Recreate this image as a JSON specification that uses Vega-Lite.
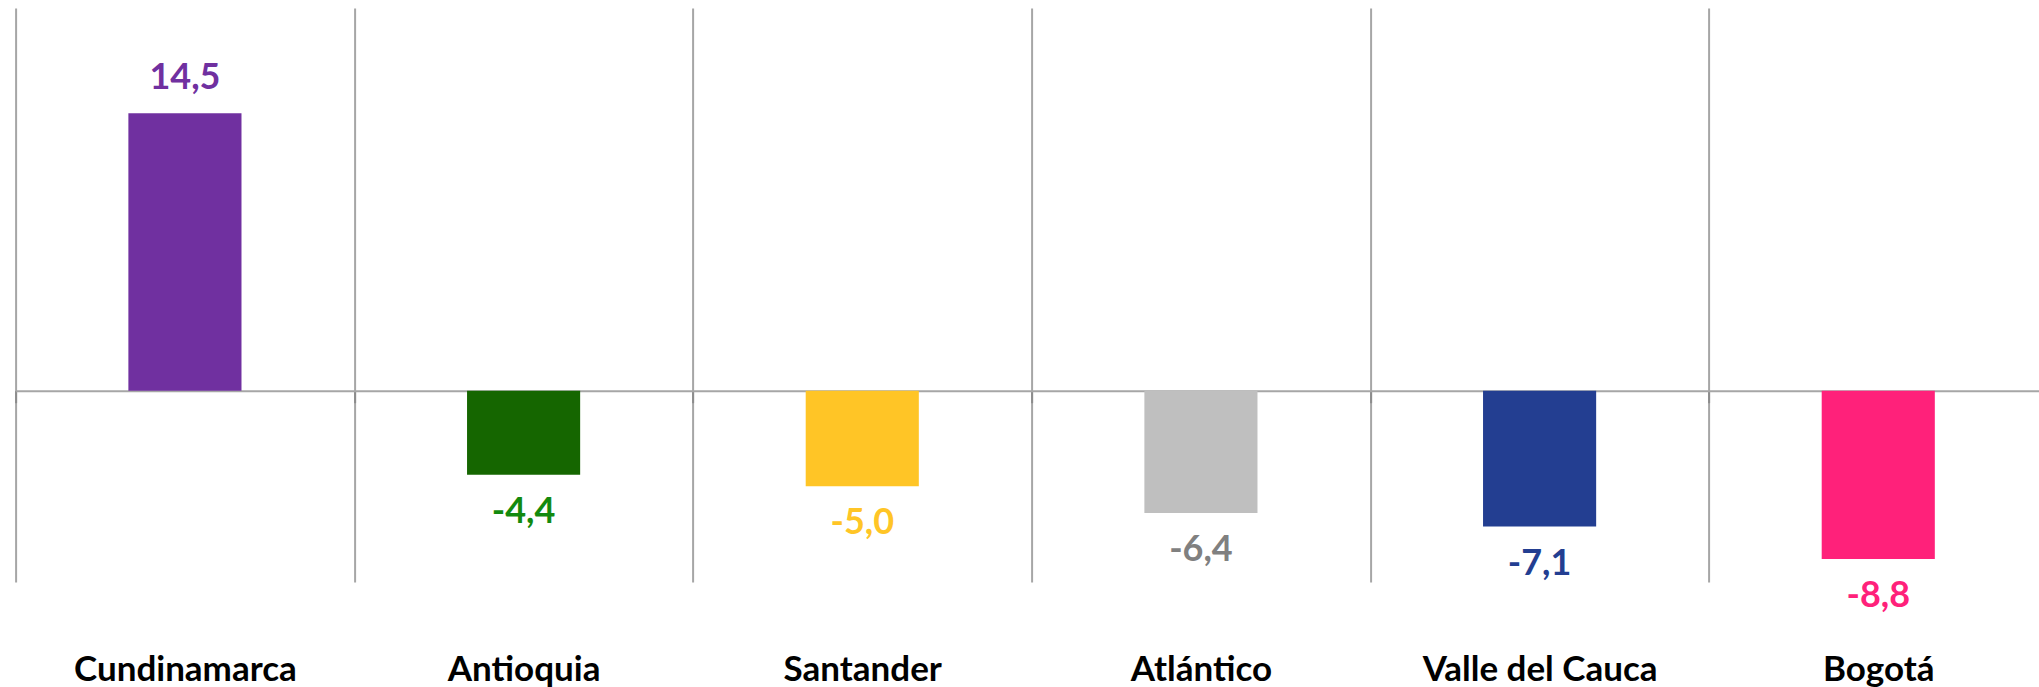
{
  "$schema": "https://vega.github.io/schema/vega-lite/v6.json",
  "width": 2032,
  "height": 574,
  "autosize": {"type": "none"},
  "padding": {"left": 15.6, "top": 8, "right": 0, "bottom": 105},
  "background": "white",
  "config": {"view": {"stroke": null}, "font": "Lato"},
  "data": {
    "values": [
      {"dep": "Cundinamarca", "v": 14.5, "label": "14,5"},
      {"dep": "Antioquia", "v": -4.4, "label": "-4,4"},
      {"dep": "Santander", "v": -5.0, "label": "-5,0"},
      {"dep": "Atlántico", "v": -6.4, "label": "-6,4"},
      {"dep": "Valle del Cauca", "v": -7.1, "label": "-7,1"},
      {"dep": "Bogotá", "v": -8.8, "label": "-8,8"}
    ]
  },
  "encoding": {
    "x": {
      "field": "dep",
      "type": "nominal",
      "sort": null,
      "scale": {"paddingInner": 0, "paddingOuter": 0},
      "axis": {
        "orient": "bottom",
        "offset": -191.3,
        "title": null,
        "labelAngle": 0,
        "labelLimit": 0,
        "domainColor": "#A6A6A6",
        "domainWidth": 2,
        "tickColor": "#8C8C8C",
        "tickSize": 12,
        "tickWidth": 2,
        "tickBand": "extent",
        "grid": true,
        "gridColor": "#A6A6A6",
        "gridWidth": 2,
        "labelFont": "Lato",
        "labelFontWeight": "bold",
        "labelFontSize": 35,
        "labelColor": "#000000",
        "labelPadding": 278,
        "labelBaseline": "alphabetic"
      }
    },
    "y": {
      "field": "v",
      "type": "quantitative",
      "scale": {"domain": [-10, 20], "nice": false, "zero": true},
      "axis": null
    }
  },
  "layer": [
    {
      "mark": {"type": "bar", "width": {"band": 0.334}},
      "encoding": {
        "color": {
          "field": "dep",
          "type": "nominal",
          "scale": {
            "domain": ["Cundinamarca", "Antioquia", "Santander", "Atlántico", "Valle del Cauca", "Bogotá"],
            "range": ["#7030A0", "#156600", "#FFC526", "#BFBFBF", "#233E91", "#FF217A"]
          },
          "legend": null
        }
      }
    },
    {
      "transform": [{"filter": "datum.v > 0"}],
      "mark": {"type": "text", "baseline": "alphabetic", "dy": -24, "fontWeight": "bold", "fontSize": 36, "font": "Lato"},
      "encoding": {
        "text": {"field": "label"},
        "color": {
          "field": "dep",
          "type": "nominal",
          "scale": {
            "domain": ["Cundinamarca", "Antioquia", "Santander", "Atlántico", "Valle del Cauca", "Bogotá"],
            "range": ["#7030A0", "#138A0E", "#FFC526", "#808080", "#233E91", "#FF217A"]
          },
          "legend": null
        }
      }
    },
    {
      "transform": [{"filter": "datum.v < 0"}],
      "mark": {"type": "text", "baseline": "top", "dy": 20, "fontWeight": "bold", "fontSize": 36, "font": "Lato"},
      "encoding": {
        "text": {"field": "label"},
        "color": {
          "field": "dep",
          "type": "nominal",
          "scale": {
            "domain": ["Cundinamarca", "Antioquia", "Santander", "Atlántico", "Valle del Cauca", "Bogotá"],
            "range": ["#7030A0", "#138A0E", "#FFC526", "#808080", "#233E91", "#FF217A"]
          },
          "legend": null
        }
      }
    }
  ],
  "resolve": {"scale": {"color": "independent"}}
}
